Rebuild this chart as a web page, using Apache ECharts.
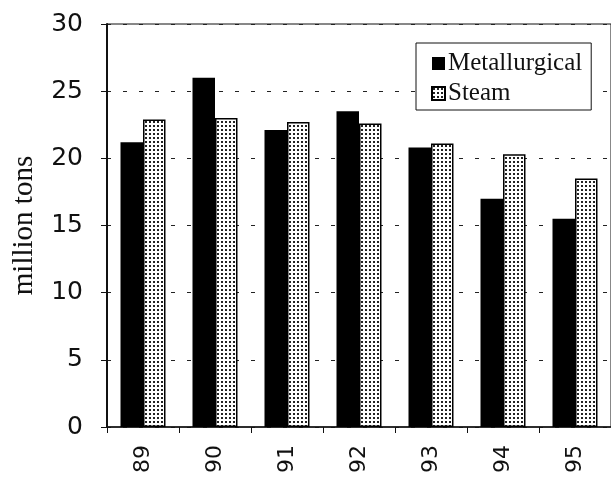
<!DOCTYPE html>
<html>
<head>
<meta charset="utf-8">
<script src="https://cdn.jsdelivr.net/npm/echarts@6/dist/echarts.min.js"></script>
<style>
  html, body { margin: 0; padding: 0; background: #fff; }
  #chart { width: 611px; height: 477px; }
</style>
</head>
<body>
<div id="chart"></div>
<script>
// Coal output by year, million tons
const years = ['89', '90', '91', '92', '93', '94', '95'];
const metallurgical = [21.2, 26.0, 22.1, 23.5, 20.8, 17.0, 15.5];
const steam = [22.9, 23.0, 22.7, 22.6, 21.1, 20.3, 18.5];
const seriesNames = ['Metallurgical', 'Steam'];
const yTicks = { min: 0, max: 30, step: 5 };

// Dotted fill tile for the steam bars
function dotTile() {
  const c = document.createElement('canvas');
  c.width = 4; c.height = 4;
  const g = c.getContext('2d');
  g.fillStyle = '#fff';
  g.fillRect(0, 0, 4, 4);
  g.fillStyle = '#222';
  g.fillRect(1, 1, 2, 2);
  return c;
}

const chart = echarts.init(document.getElementById('chart'), null, { renderer: 'canvas' });

chart.setOption({
  backgroundColor: '#fff',
  animation: false,
  grid: {
    left: 107, top: 24, right: 0, bottom: 50,
    show: true, borderColor: '#111', borderWidth: 1, backgroundColor: 'transparent'
  },
  legend: {
    orient: 'vertical',
    left: 416, top: 43,
    padding: [8, 9, 4, 15],
    itemGap: 5,
    itemWidth: 13, itemHeight: 13,
    borderColor: '#111', borderWidth: 1, backgroundColor: '#fff',
    icon: 'rect',
    textStyle: { fontFamily: 'Liberation Serif', fontSize: 25, color: '#111', padding: [0, 0, 0, -2] },
    data: seriesNames
  },
  xAxis: {
    type: 'category',
    data: years,
    axisLine: { lineStyle: { color: '#111', width: 1.5 } },
    axisTick: { show: true, length: 6, lineStyle: { color: '#111' } },
    axisLabel: {
      rotate: 90, margin: 18,
      fontFamily: 'DejaVu Sans', fontSize: 22, color: '#111'
    },
    splitLine: { show: false }
  },
  yAxis: {
    type: 'value',
    min: yTicks.min, max: yTicks.max, interval: yTicks.step,
    name: 'million tons',
    nameLocation: 'middle',
    nameGap: 68,
    nameTextStyle: { fontFamily: 'Liberation Serif', fontSize: 29, color: '#111' },
    axisLine: { show: true, lineStyle: { color: '#111', width: 2 } },
    axisTick: { show: true, length: 6, lineStyle: { color: '#111' } },
    axisLabel: { margin: 24, fontFamily: 'DejaVu Sans', fontSize: 25, color: '#111' },
    splitLine: { show: true, lineStyle: { color: '#222', width: 1, type: [4, 12] } }
  },
  series: [
    {
      name: seriesNames[0],
      type: 'bar',
      data: metallurgical,
      barWidth: 22.5,
      barGap: '0%',
      itemStyle: { color: '#000' }
    },
    {
      name: seriesNames[1],
      type: 'bar',
      data: steam,
      barWidth: 22.5,
      itemStyle: {
        color: { image: dotTile(), repeat: 'repeat' },
        borderColor: '#000', borderWidth: 1.5
      }
    }
  ]
});
</script>
</body>
</html>
